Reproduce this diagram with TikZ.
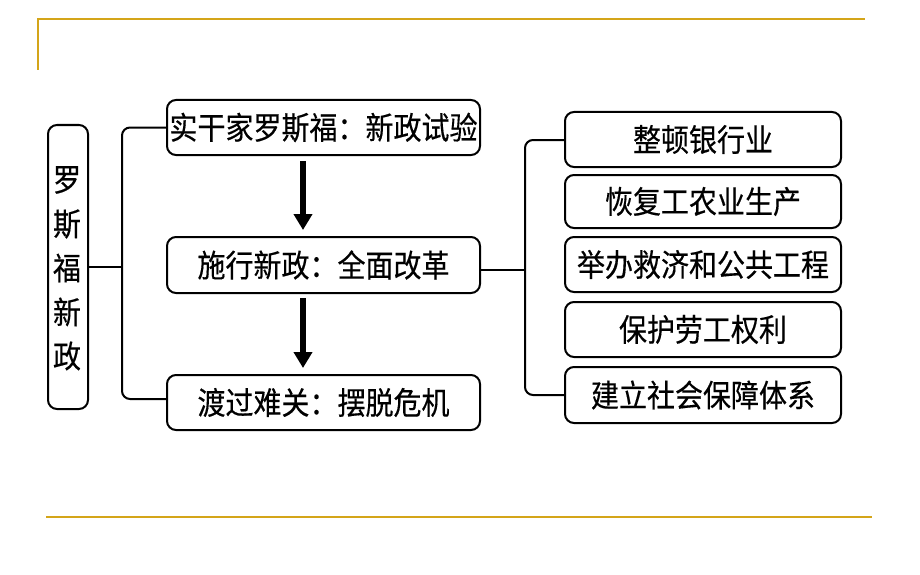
\documentclass[tikz,border=0pt]{standalone}
\usepackage{fontspec}
\usepackage{graphicx}
\setmainfont{Noto Sans CJK SC}[FakeBold=0.4,AutoFakeBold=0.4]
\usetikzlibrary{arrows.meta}
\definecolor{gold}{RGB}{212,165,25}
\newcommand{\tallt}[1]{\scalebox{1}[1.12]{#1}}
\begin{document}
\begin{tikzpicture}[x=1pt,y=-1pt,
  rbox/.style={draw=black,line width=2pt,rounded corners=9pt,inner sep=0pt,font=\fontsize{28}{30}\selectfont\bfseries},
  conn/.style={draw=black,line width=2pt,rounded corners=8pt},
  bigarrow/.style={line width=6pt,-{Triangle[width=18pt,length=16pt]}}]
\useasboundingbox (0,0) rectangle (920,575);
% gold frame lines
\draw[gold,line width=1.5pt] (38,70) -- (38,19) -- (865,19);
\draw[gold,line width=1.5pt] (46,517) -- (872,517);
% left title box
\node[rbox,minimum width=40pt,minimum height=284pt,anchor=north west] (title) at (47,124) {};
\foreach \c [count=\i] in {罗,斯,福,新,政}
  \node[font=\fontsize{28}{30}\selectfont\bfseries,inner sep=0pt] at (67,{180+(\i-1)*44}) {\tallt{\c}};
% middle boxes
\node[rbox,minimum width=313pt,minimum height=55pt] (m1) at (323.5,127.5) {\tallt{实干家罗斯福：新政试验}};
\node[rbox,minimum width=313pt,minimum height=56pt] (m2) at (323.5,265) {\tallt{施行新政：全面改革}};
\node[rbox,minimum width=313pt,minimum height=55pt] (m3) at (323.5,402.5) {\tallt{渡过难关：摆脱危机}};
% arrows
\draw[bigarrow] ([yshift=-5pt]m1.south -| 303,0) -- ([yshift=6pt]m2.north -| 303,0);
\draw[bigarrow] ([yshift=-4pt]m2.south -| 303,0) -- ([yshift=6pt]m3.north -| 303,0);
% right boxes
\node[rbox,minimum width=276pt,minimum height=55pt] (r1) at (703,139.5) {\tallt{整顿银行业}};
\node[rbox,minimum width=276pt,minimum height=53pt] (r2) at (703,201.5) {\tallt{恢复工农业生产}};
\node[rbox,minimum width=276pt,minimum height=55pt] (r3) at (703,264.5) {\tallt{举办救济和公共工程}};
\node[rbox,minimum width=276pt,minimum height=55pt] (r4) at (703,329.5) {\tallt{保护劳工权利}};
\node[rbox,minimum width=276pt,minimum height=56pt] (r5) at (703,395) {\tallt{建立社会保障体系}};
% left bracket
\coordinate (lb) at (122,267);
\draw[conn] (title.east |- lb) -- (lb);
\draw[conn] (m1.west) -- (122,127.5) -- (122,399) -- (m3.west |- 0,399);
% right bracket
\coordinate (rb) at (525,270);
\draw[conn] (m2.east |- rb) -- (rb);
\draw[conn] (r1.west |- 0,140) -- (525,140) -- (525,395) -- (r5.west);
\end{tikzpicture}
\end{document}
